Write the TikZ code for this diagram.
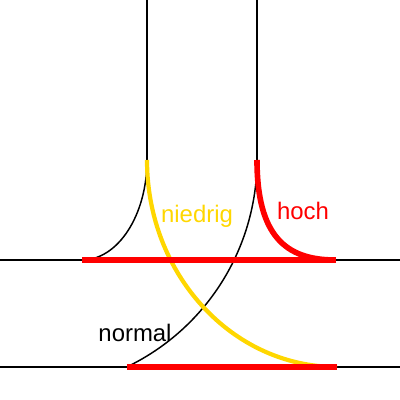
\documentclass[tikz,border=0pt]{standalone}
\usepackage{fontspec}
\setsansfont{Liberation Sans}
\usepackage{tikz}
\usetikzlibrary{positioning}
\definecolor{gelb}{RGB}{255,215,0}
\definecolor{rot}{RGB}{255,0,0}

\begin{document}
\begin{tikzpicture}[
  x=0.025cm, y=0.025cm,
  font=\sffamily\fontsize{17}{20}\selectfont,
  gleis/.style={draw=black, line width=1.05pt},
  niedrigbahn/.style={draw=gelb, line width=3pt},
  hochbahn/.style={draw=rot, line width=4pt},
  lbl/.style={inner sep=0pt, anchor=base},
]
  \useasboundingbox (0,0) rectangle (400,400);

  % Gleise
  \coordinate (a1) at (147,240);
  \coordinate (a2) at (257,240);
  \draw[gleis] (147,400) -- (a1);
  \draw[gleis] (257,400) -- (a2);
  \draw[gleis] (0,140) -- (400,140);
  \draw[gleis] (0,33) -- (400,33);

  % Kurven
  \draw[gleis] (a1) arc[start angle=0, end angle=-90, x radius=65, y radius=100];
  \draw[gleis] (a2) arc[start angle=0, end angle=-64.4, radius=229.6];
  \draw[niedrigbahn] (a1) arc[start angle=180, end angle=270, x radius=190, y radius=207];
  \draw[hochbahn] (a2) .. controls (257,165) and (285,140) .. (335,140);

  % Rote Abschnitte
  \draw[hochbahn, line cap=butt] (82,140) -- (336,140);
  \draw[hochbahn, line cap=butt] (127,33) -- (337,33);

  % Beschriftung
  \node[lbl, text=gelb] (niedrig) at (197,177) {niedrig};
  \node[lbl, text=rot] (hoch) at (303,180) {hoch};
  \node[lbl] (normal) at (135,58) {normal};
\end{tikzpicture}
\end{document}
